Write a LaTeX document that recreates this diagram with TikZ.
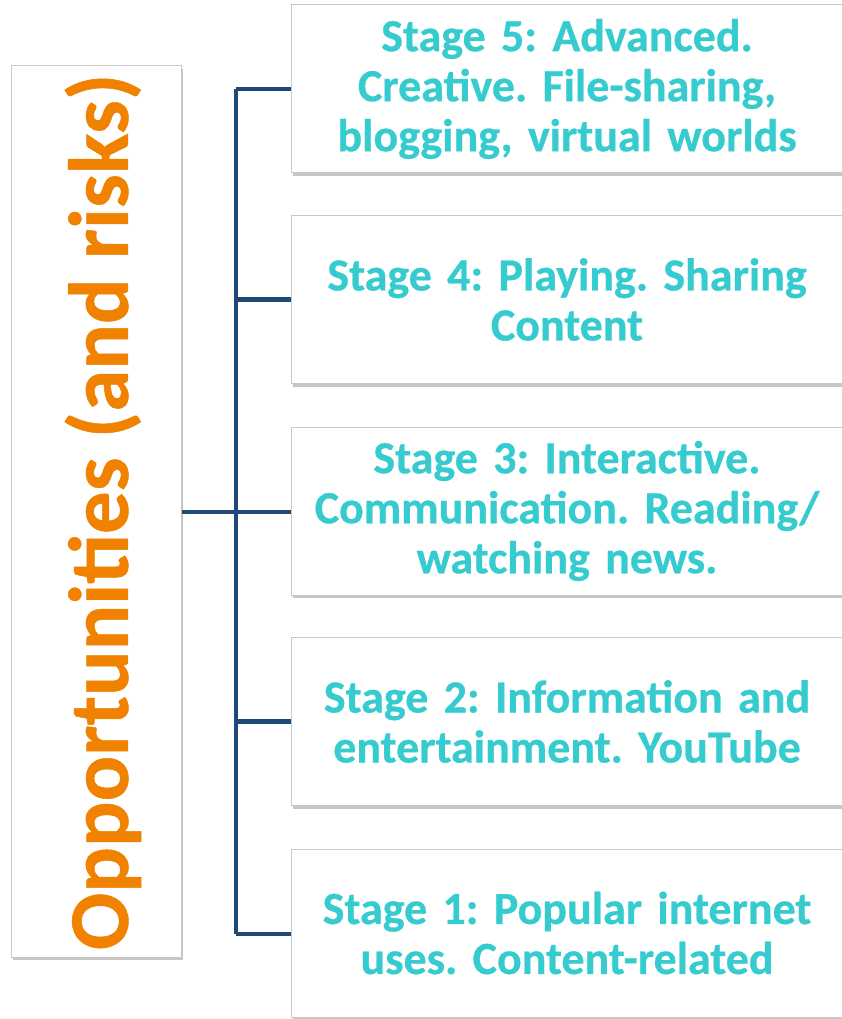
\documentclass[tikz,border=0pt]{standalone}
\usepackage{fontspec}
\setmainfont{Carlito}[BoldFont={Carlito Bold},BoldFeatures={FakeBold=0.6}]
\usetikzlibrary{shadows}
\definecolor{teal}{HTML}{36CBCF}
\definecolor{orng}{HTML}{F08200}
\definecolor{navy}{HTML}{1F4A78}
\definecolor{bordergray}{HTML}{C8C8C8}
\tikzset{
  stagebox/.style={draw=bordergray, line width=1pt, fill=white, minimum width=552pt, minimum height=168pt,
    drop shadow={opacity=0.45, shadow xshift=1.5pt, shadow yshift=-3pt},
    text width=540pt, align=center, font=\fontsize{46}{50}\selectfont\bfseries\frenchspacing, text=teal, inner sep=0pt},
  titlebox/.style={draw=bordergray, line width=1pt, fill=white, minimum width=170pt, minimum height=891pt,
    drop shadow={opacity=0.45, shadow xshift=1.5pt, shadow yshift=-3pt}, inner sep=0pt},
  conn/.style={draw=navy, line width=4.5pt}
}
\begin{document}
\begin{tikzpicture}[x=1pt,y=-1pt]
\useasboundingbox (0,0) rectangle (841,1019);
\node[titlebox] (title) at (96,511.5) {};
\node[rotate=90, font=\fontsize{85}{90}\selectfont\bfseries, text=orng] (titletext) at (103,512) {Opportunities (and risks)};
\node[stagebox] (s5) at (567,89) {Stage 5: Advanced.\\Creative. File-sharing,\\blogging, virtual worlds};
\node[stagebox] (s4) at (567,299.5) {Stage 4: Playing. Sharing\\Content};
\node[stagebox] (s3) at (567,511) {Stage 3: Interactive.\\Communication. Reading/\\watching news.};
\node[stagebox] (s2) at (567,721.5) {Stage 2: Information and\\entertainment. YouTube};
\node[stagebox] (s1) at (567,933) {Stage 1: Popular internet\\uses. Content-related};
\coordinate (top) at (236,89);
\coordinate (bot) at (236,934);
\coordinate (mid) at (236,512);
\draw[conn] (top) -- (bot);
\draw[conn] (title.east |- mid) -- (mid);
\draw[conn] (top) -- (s5.west |- top);
\draw[conn] (236,299.5) -- (s4.west);
\draw[conn] (mid) -- (s3.west |- mid);
\draw[conn] (236,721.5) -- (s2.west);
\draw[conn] (bot) -- (s1.west |- bot);
\end{tikzpicture}
\end{document}
